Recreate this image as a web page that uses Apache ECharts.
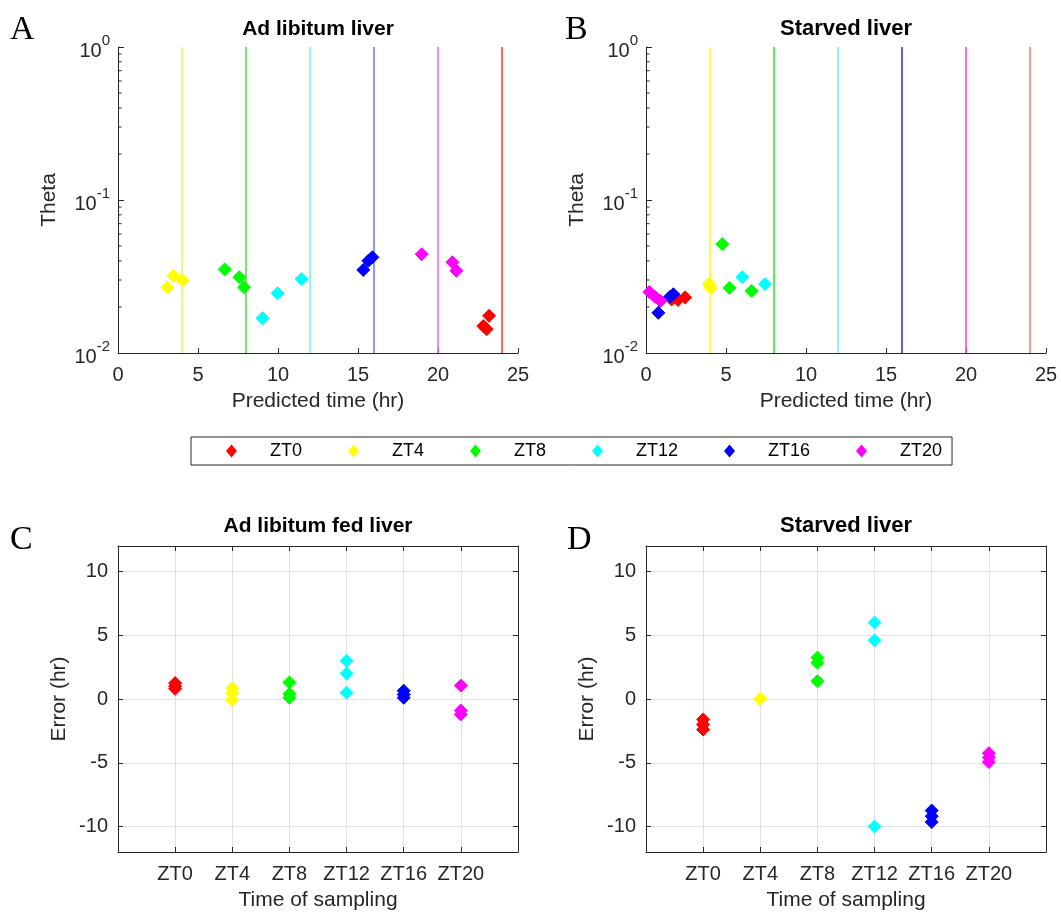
<!DOCTYPE html>
<html>
<head>
<meta charset="utf-8">
<script src="https://cdn.jsdelivr.net/npm/echarts@6/dist/echarts.min.js"></script>
<style>
  html, body { margin: 0; padding: 0; background: #ffffff; }
  #chart { width: 1061px; height: 918px; }
</style>
</head>
<body>
<div id="chart"></div>
<script>
// Sampling groups (zeitgeber time) and their marker colours
const ztNames = ['ZT0', 'ZT4', 'ZT8', 'ZT12', 'ZT16', 'ZT20'];
const ztColors = ['#ff0000', '#ffff00', '#00ff00', '#00ffff', '#0000ff', '#ff00ff'];
// True sampling hour of each group, drawn as a vertical reference line
const ztLineHours = [24, 4, 8, 12, 16, 20];
const adlibLineColors = ['#ff3030', '#eeee55', '#44dd44', '#66f4f4', '#7070f4', '#f45cf4'];
const starvedLineColors = ['#ff7272', '#ffff00', '#22e622', '#66f0f0', '#2a2acc', '#f03cf0'];

// Ad libitum liver: predicted time (hr) and theta, per group
const adlibPredicted = [
  [23.19, 22.83, 23.04],
  [3.08, 3.46, 4.04],
  [6.67, 7.58, 7.88],
  [9.04, 9.98, 11.48],
  [15.33, 15.65, 15.90],
  [18.98, 20.90, 21.15]
];
const adlibTheta = [
  [0.0175, 0.0150, 0.0143],
  [0.0269, 0.0319, 0.0300],
  [0.0352, 0.0313, 0.0269],
  [0.0169, 0.0246, 0.0305],
  [0.0349, 0.0401, 0.0422],
  [0.0442, 0.0392, 0.0345]
];

// Starved liver: predicted time (hr) and theta, per group
const starvedPredicted = [
  [1.60, 2.00, 2.44],
  [3.96, 4.04, 4.00],
  [4.77, 5.21, 6.60],
  [6.02, 7.44],
  [0.77, 1.50, 1.71],
  [0.21, 0.56, 0.90]
];
const starvedTheta = [
  [0.0224, 0.0222, 0.0231],
  [0.0284, 0.0267, 0.0275],
  [0.0516, 0.0266, 0.0255],
  [0.0313, 0.0282],
  [0.0183, 0.0233, 0.0242],
  [0.0250, 0.0233, 0.0219]
];

// Prediction error (hr) per sampling group
const adlibError = [
  [1.25, 1.00, 0.80],
  [0.85, 0.45, -0.05],
  [1.30, 0.40, 0.10],
  [3.00, 2.00, 0.50],
  [0.65, 0.35, 0.10],
  [1.05, -0.90, -1.20]
];
const starvedError = [
  [-1.60, -2.00, -2.40],
  [0.00, 0.00, 0.00],
  [3.25, 2.85, 1.40],
  [6.00, 4.60, -10.00],
  [-8.75, -9.20, -9.65],
  [-4.25, -4.60, -4.95]
];

// Axis ticks
const errorTicks = [-10, -5, 0, 5, 10];
const samplingTicks = [1, 2, 3, 4, 5, 6];
const thetaMinorTicks = [0.02, 0.03, 0.04, 0.05, 0.06, 0.07, 0.08, 0.09,
                         0.2, 0.3, 0.4, 0.5, 0.6, 0.7, 0.8, 0.9];

const FONT = '"Liberation Sans", Arial, Helvetica, sans-serif';
const AXIS_COLOR = '#262626';
const GRID_COLOR = '#e2e2e2';

const grids = [
  { left: 118, top: 47, width: 400, height: 306 },
  { left: 646, top: 47, width: 400, height: 306 },
  { left: 118, top: 546, width: 400, height: 306 },
  { left: 646, top: 546, width: 400, height: 306 }
];

function timeAxis(gridIndex) {
  return {
    type: 'value', gridIndex, min: 0, max: 25, interval: 5,
    name: 'Predicted time (hr)', nameLocation: 'middle', nameGap: 38,
    nameTextStyle: { color: AXIS_COLOR, fontSize: 21, fontFamily: FONT },
    axisLine: { show: true, onZero: false, lineStyle: { color: AXIS_COLOR, width: 1 } },
    axisTick: { show: true, inside: true, length: 5, lineStyle: { color: AXIS_COLOR } },
    axisLabel: { color: AXIS_COLOR, fontSize: 20, fontFamily: FONT, margin: 12 },
    splitLine: { show: false }
  };
}

function thetaAxis(gridIndex) {
  return {
    type: 'log', logBase: 10, gridIndex, min: 0.01, max: 1,
    name: 'Theta', nameLocation: 'middle', nameGap: 58,
    nameTextStyle: { color: AXIS_COLOR, fontSize: 21, fontFamily: FONT },
    axisLine: { show: true, onZero: false, lineStyle: { color: AXIS_COLOR, width: 1 } },
    axisTick: { show: true, inside: true, length: 6, lineStyle: { color: AXIS_COLOR } },
    axisLabel: {
      margin: 8,
      formatter: function (v) {
        const e = Math.round(Math.log10(v));
        return '{b|10}{s|' + e + '}';
      },
      rich: {
        b: { fontSize: 20, fontFamily: FONT, color: AXIS_COLOR, verticalAlign: 'bottom', padding: [8, 0, 0, 0] },
        s: { fontSize: 15, fontFamily: FONT, color: AXIS_COLOR, verticalAlign: 'top' }
      }
    },
    splitLine: { show: false }
  };
}

function samplingAxis(gridIndex, top) {
  return {
    type: 'value', gridIndex, min: 0, max: 7, interval: 1,
    position: top ? 'top' : 'bottom',
    name: top ? '' : 'Time of sampling', nameLocation: 'middle', nameGap: 38,
    nameTextStyle: { color: AXIS_COLOR, fontSize: 21, fontFamily: FONT },
    axisLine: { show: true, onZero: false, lineStyle: { color: AXIS_COLOR, width: 1 } },
    axisTick: { show: true, inside: true, length: 5, lineStyle: { color: AXIS_COLOR } },
    axisLabel: {
      show: !top, color: AXIS_COLOR, fontSize: 20, fontFamily: FONT, margin: 12,
      formatter: v => (v >= 1 && v <= 6) ? ztNames[v - 1] : ''
    },
    splitLine: { show: !top, lineStyle: { color: GRID_COLOR, width: 1 } }
  };
}

function errorAxis(gridIndex, right) {
  return {
    type: 'value', gridIndex, min: -12, max: 12,
    position: right ? 'right' : 'left',
    name: right ? '' : 'Error (hr)', nameLocation: 'middle', nameGap: 48,
    nameTextStyle: { color: AXIS_COLOR, fontSize: 21, fontFamily: FONT },
    axisLine: { show: true, onZero: false, lineStyle: { color: AXIS_COLOR, width: 1 } },
    axisTick: { show: true, inside: true, length: 5, customValues: errorTicks, lineStyle: { color: AXIS_COLOR } },
    axisLabel: { show: !right, customValues: errorTicks, color: AXIS_COLOR, fontSize: 20, fontFamily: FONT, margin: 10 },
    splitLine: { show: !right, lineStyle: { color: GRID_COLOR, width: 1 } }
  };
}

const xAxes = [
  timeAxis(0), timeAxis(1),
  samplingAxis(2, false), samplingAxis(3, false),
  samplingAxis(2, true), samplingAxis(3, true)
];
const yAxes = [
  thetaAxis(0), thetaAxis(1),
  errorAxis(2, false), errorAxis(3, false),
  errorAxis(2, true), errorAxis(3, true)
];

const series = [];

// Minor ticks of the log theta axes (2..9 of each decade)
[0, 1].forEach(function (ai) {
  series.push({
    type: 'custom', name: 'theta minor ticks ' + ai,
    xAxisIndex: ai, yAxisIndex: ai, silent: true, z: 4, clip: false,
    data: thetaMinorTicks.map(v => [0, v]),
    renderItem: function (params, api) {
      const p = api.coord([api.value(0), api.value(1)]);
      return {
        type: 'line',
        shape: { x1: p[0], y1: p[1], x2: p[0] + 3.5, y2: p[1] },
        style: { stroke: AXIS_COLOR, lineWidth: 1 }
      };
    }
  });
});

function scatterSeries(name, color, xi, yi, data, lineHour, lineColor) {
  const s = {
    type: 'scatter', name, xAxisIndex: xi, yAxisIndex: yi,
    symbol: 'diamond', symbolSize: 13, z: 3,
    itemStyle: { color, opacity: 1, borderColor: color, borderWidth: 1 },
    emphasis: { disabled: true },
    data
  };
  if (lineHour !== undefined) {
    s.markLine = {
      silent: true, symbol: 'none', z: 1, animation: false,
      label: { show: false },
      lineStyle: { color: lineColor, width: 1.5, type: 'solid', opacity: 1 },
      emphasis: { disabled: true },
      data: [{ xAxis: lineHour }]
    };
  }
  return s;
}

ztNames.forEach(function (name, gi) {
  series.push(scatterSeries(name, ztColors[gi], 0, 0,
    adlibPredicted[gi].map((t, k) => [t, adlibTheta[gi][k]]),
    ztLineHours[gi], adlibLineColors[gi]));
  series.push(scatterSeries(name, ztColors[gi], 1, 1,
    starvedPredicted[gi].map((t, k) => [t, starvedTheta[gi][k]]),
    ztLineHours[gi], starvedLineColors[gi]));
  series.push(scatterSeries(name, ztColors[gi], 2, 2,
    adlibError[gi].map(e => [samplingTicks[gi], e])));
  series.push(scatterSeries(name, ztColors[gi], 3, 3,
    starvedError[gi].map(e => [samplingTicks[gi], e])));
});

function label(text, x, y, opts) {
  return {
    type: 'text', x, y, silent: true,
    style: Object.assign({
      text, align: 'center', verticalAlign: 'middle',
      fill: '#000000', fontFamily: FONT, fontSize: 21, fontWeight: 'bold'
    }, opts || {})
  };
}

const SERIF = { fontFamily: '"Liberation Serif", "Times New Roman", serif', fontSize: 34, fontWeight: 'normal', align: 'left' };

const option = {
  animation: false,
  backgroundColor: '#ffffff',
  textStyle: { fontFamily: FONT },
  grid: grids.map(g => Object.assign({ containLabel: false }, g)),
  xAxis: xAxes,
  yAxis: yAxes,
  legend: {
    data: ztNames,
    left: 191, top: 437,
    orient: 'horizontal',
    icon: 'diamond',
    itemWidth: 11, itemHeight: 13, itemGap: 46,
    padding: [5, 10, 5, 35],
    borderColor: AXIS_COLOR, borderWidth: 1,
    selectedMode: false,
    itemStyle: { borderWidth: 0 },
    textStyle: { color: '#000000', fontSize: 18, fontFamily: FONT, padding: [0, 0, 0, 28] }
  },
  graphic: [
    label('Ad libitum liver', 318, 29),
    label('Starved liver', 846, 29, { fontSize: 22 }),
    label('Ad libitum fed liver', 318, 526),
    label('Starved liver', 846, 526, { fontSize: 22 }),
    label('A', 10, 30, SERIF),
    label('B', 565, 30, SERIF),
    label('C', 10, 540, SERIF),
    label('D', 567, 540, SERIF)
  ],
  series
};

const chart = echarts.init(document.getElementById('chart'), null, { renderer: 'canvas' });
chart.setOption(option);
</script>
</body>
</html>
